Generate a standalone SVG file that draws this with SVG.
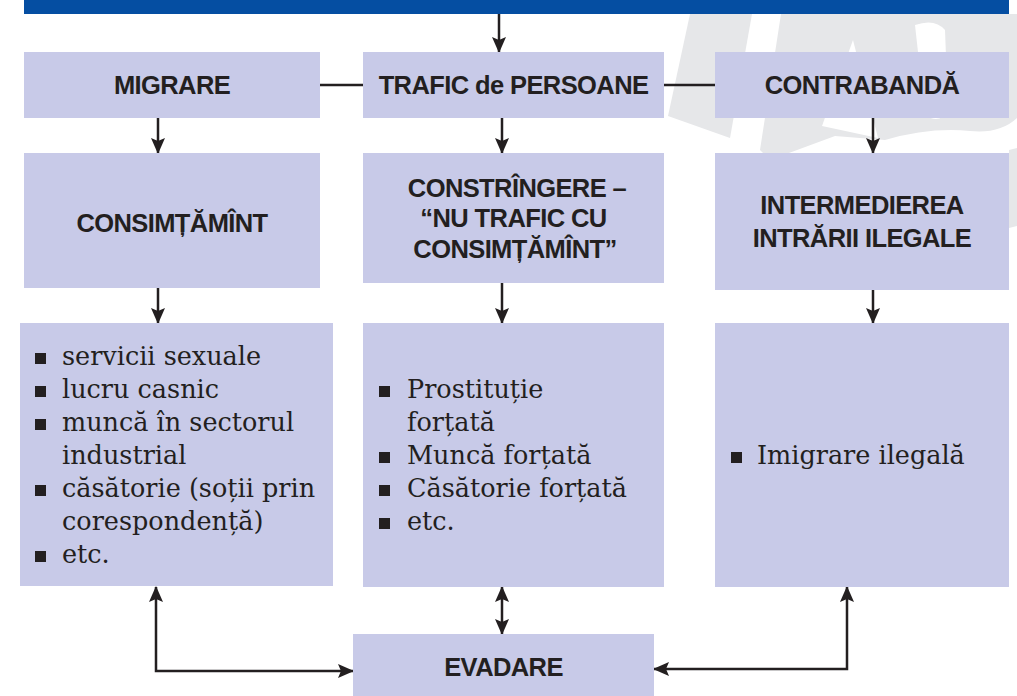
<svg xmlns="http://www.w3.org/2000/svg" width="1017" height="696" viewBox="0 0 1017 696">
  <style>
    .box { fill: #c8cae8; }
    .hd { font-family: "Liberation Sans", Arial, sans-serif; font-weight: bold; font-size: 25.5px; letter-spacing: -0.6px; fill: #231f20; text-anchor: middle; }
    .bd { font-family: "DejaVu Serif", serif; font-size: 25.5px; fill: #231f20; }
    .bul { fill: #231f20; }
    .ln { fill: none; stroke: #231f20; stroke-width: 2.5; }
    .wm { fill: #e6e7e9; }
  </style>
  <defs>
    <marker id="ah" markerUnits="userSpaceOnUse" markerWidth="16" markerHeight="14" viewBox="0 0 16 14" refX="15" refY="7" orient="auto-start-reverse">
      <path d="M0,0 L16,7 L0,14 L3,7 Z" fill="#231f20"/>
    </marker>
  </defs>

  <rect width="1017" height="696" fill="#ffffff"/>

  <g id="watermark">
    <path class="wm" d="M690,14 L752,14 L730,138 L668,116 Z"/>
    <path class="wm" d="M781,14 L1017,14 L1017,118 Q1000,134 970,131 Q930,127 885,140 L835,136 L770,160 L760,150 Z"/>
    <path class="wm" d="M1009,150 L1017,148 L1017,226 L1009,228 Z"/>
    <path fill="#ffffff" d="M853,40 L878,138 L822,126 Z"/>
    <path fill="#ffffff" d="M915,25 Q935,18 945,30 L948,110 Q940,125 925,115 Z"/>
  </g>

  <rect id="topbar" x="24" y="0" width="985" height="14" fill="#054ea2"/>

  <g id="connectors">
    <line class="ln" x1="499" y1="14" x2="499" y2="52" marker-end="url(#ah)"/>
    <line class="ln" x1="320" y1="85" x2="363" y2="85"/>
    <line class="ln" x1="664" y1="85" x2="715" y2="85"/>
    <line class="ln" x1="158" y1="118" x2="158" y2="153" marker-end="url(#ah)"/>
    <line class="ln" x1="502" y1="118" x2="502" y2="153" marker-end="url(#ah)"/>
    <line class="ln" x1="873" y1="118" x2="873" y2="153" marker-end="url(#ah)"/>
    <line class="ln" x1="158" y1="288" x2="158" y2="323" marker-end="url(#ah)"/>
    <line class="ln" x1="502" y1="283" x2="502" y2="323" marker-end="url(#ah)"/>
    <line class="ln" x1="873" y1="290" x2="873" y2="323" marker-end="url(#ah)"/>
    <path class="ln" d="M156,587 L156,671 L353,671" marker-start="url(#ah)" marker-end="url(#ah)"/>
    <line class="ln" x1="502" y1="587" x2="502" y2="634" marker-start="url(#ah)" marker-end="url(#ah)"/>
    <path class="ln" d="M654,669 L847,669 L847,587" marker-start="url(#ah)" marker-end="url(#ah)"/>
  </g>

  <g id="migrare">
    <rect class="box" x="24" y="52" width="296" height="66"/>
    <text class="hd" x="172" y="94">MIGRARE</text>
  </g>
  <g id="trafic">
    <rect class="box" x="363" y="52" width="301" height="66"/>
    <text class="hd" x="513.5" y="94">TRAFIC de PERSOANE</text>
  </g>
  <g id="contrabanda">
    <rect class="box" x="715" y="52" width="294" height="66"/>
    <text class="hd" x="862" y="94">CONTRABANDĂ</text>
  </g>

  <g id="consimtamint">
    <rect class="box" x="24" y="153" width="296" height="135"/>
    <text class="hd" x="172" y="232">CONSIMȚĂMÎNT</text>
  </g>
  <g id="constringere">
    <rect class="box" x="363" y="153" width="301" height="130"/>
    <text class="hd" x="517" y="197">CONSTRÎNGERE –</text>
    <text class="hd" x="513.5" y="227">“NU TRAFIC CU</text>
    <text class="hd" x="515" y="258">CONSIMȚĂMÎNT”</text>
  </g>
  <g id="intermedierea">
    <rect class="box" x="715" y="153" width="294" height="137"/>
    <text class="hd" x="862" y="214">INTERMEDIEREA</text>
    <text class="hd" x="862" y="247">INTRĂRII ILEGALE</text>
  </g>

  <g id="lista-migrare">
    <rect class="box" x="20" y="323" width="313" height="263"/>
    <rect class="bul" x="35" y="353" width="11" height="11"/>
    <text class="bd" x="62" y="365">servicii sexuale</text>
    <rect class="bul" x="35" y="386" width="11" height="11"/>
    <text class="bd" x="62" y="398">lucru casnic</text>
    <rect class="bul" x="35" y="419" width="11" height="11"/>
    <text class="bd" x="62" y="431">muncă în sectorul</text>
    <text class="bd" x="62" y="464">industrial</text>
    <rect class="bul" x="35" y="485" width="11" height="11"/>
    <text class="bd" x="62" y="497">căsătorie (soții prin</text>
    <text class="bd" x="62" y="530">corespondență)</text>
    <rect class="bul" x="35" y="551" width="11" height="11"/>
    <text class="bd" x="62" y="563">etc.</text>
  </g>
  <g id="lista-trafic">
    <rect class="box" x="363" y="323" width="301" height="264"/>
    <rect class="bul" x="379" y="386" width="11" height="11"/>
    <text class="bd" x="407" y="398">Prostituție</text>
    <text class="bd" x="407" y="431">forțată</text>
    <rect class="bul" x="379" y="452" width="11" height="11"/>
    <text class="bd" x="407" y="464">Muncă forțată</text>
    <rect class="bul" x="379" y="485" width="11" height="11"/>
    <text class="bd" x="407" y="497">Căsătorie forțată</text>
    <rect class="bul" x="379" y="518" width="11" height="11"/>
    <text class="bd" x="407" y="530">etc.</text>
  </g>
  <g id="lista-contrabanda">
    <rect class="box" x="715" y="323" width="294" height="264"/>
    <rect class="bul" x="731" y="452" width="11" height="11"/>
    <text class="bd" x="757" y="464">Imigrare ilegală</text>
  </g>

  <g id="evadare">
    <rect class="box" x="353" y="634" width="301" height="62"/>
    <text class="hd" x="503.5" y="676">EVADARE</text>
  </g>
</svg>
